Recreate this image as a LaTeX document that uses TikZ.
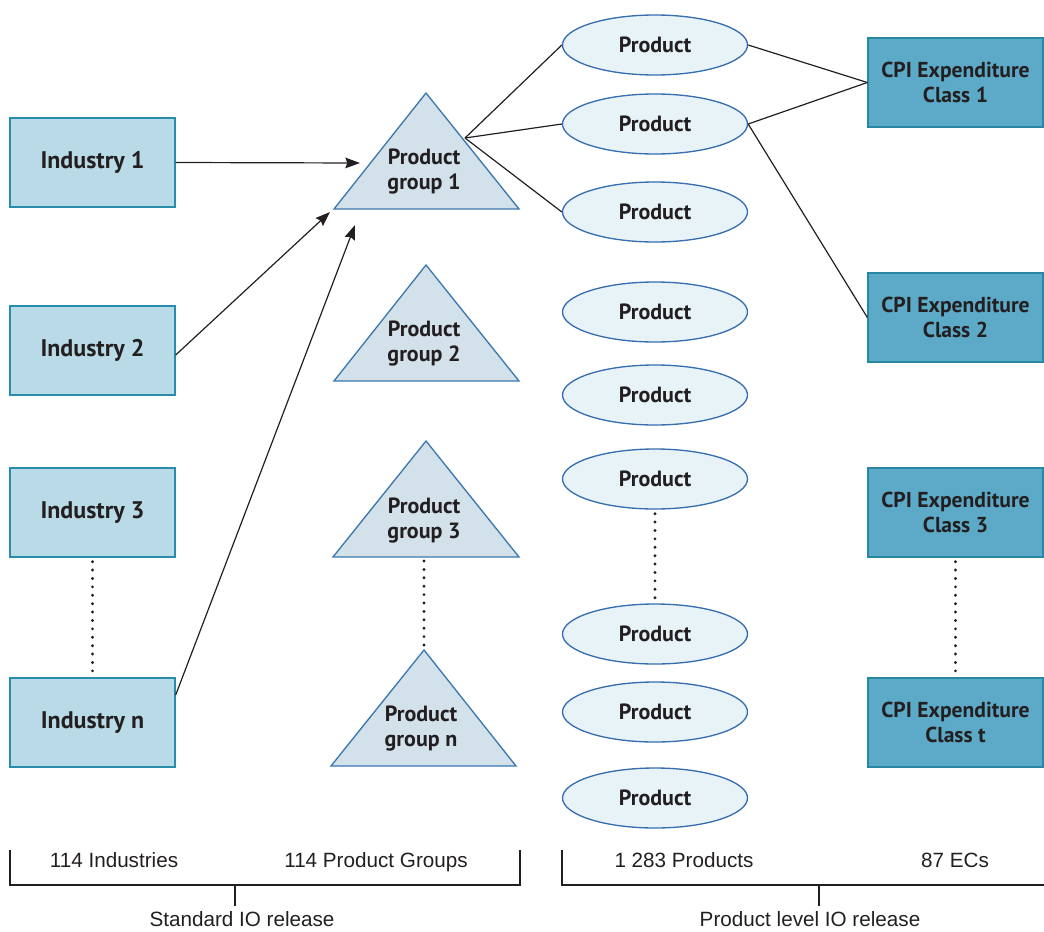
\documentclass[tikz,border=0pt]{standalone}
\usepackage{fontspec}
\setmainfont{PT Sans}
\newfontfamily\labelfont{Liberation Sans}
\usetikzlibrary{shapes.geometric,arrows.meta,calc}
\definecolor{indfill}{RGB}{185,219,231}
\definecolor{indborder}{RGB}{40,140,170}
\definecolor{trifill}{RGB}{211,225,234}
\definecolor{triborder}{RGB}{58,120,175}
\definecolor{ellfill}{RGB}{232,243,248}
\definecolor{ellborder}{RGB}{55,110,175}
\definecolor{cpifill}{RGB}{92,170,199}
\definecolor{cpiborder}{RGB}{40,135,165}
\definecolor{txt}{RGB}{35,31,32}
\tikzset{
  indbox/.style={draw=indborder,fill=indfill,line width=1pt,minimum width=123.75pt,minimum height=66.75pt,inner sep=0pt,font=\fontsize{18}{18.75}\selectfont\bfseries,text=txt},
  cpibox/.style={draw=cpiborder,fill=cpifill,line width=1pt,minimum width=131.25pt,minimum height=66.75pt,inner sep=0pt,align=center,font=\fontsize{16.2}{18.75}\selectfont\bfseries,text=txt},
  prod/.style={ellipse,draw=ellborder,fill=ellfill,line width=1pt,minimum width=138.75pt,minimum height=45pt,inner sep=0pt,font=\fontsize{16.5}{18.75}\selectfont\bfseries,text=txt},
  tri/.style={draw=triborder,fill=trifill,line width=1pt},
  trilabel/.style={align=center,inner sep=0pt,font=\fontsize{16.5}{18.75}\selectfont\bfseries,text=txt},
  conn/.style={line width=0.9pt,txt},
  arr/.style={conn,-{Stealth[length=11pt,width=8pt,inset=1.5pt]}},
  dots/.style={line width=2.4pt,line cap=round,dash pattern=on 0pt off 6.3pt,txt},
  lab/.style={font=\labelfont\fontsize{15.5}{16}\selectfont,text=txt,inner sep=0pt,anchor=base},
  brack/.style={line width=0.8pt,txt}
}
\begin{document}
\begin{tikzpicture}[x=0.75pt,y=-0.75pt]
\useasboundingbox (0,0) rectangle (1044,931);
% industries
\node[indbox] (ind1) at (92.5,162.5) {Industry 1};
\node[indbox] (ind2) at (92.5,350.5) {Industry 2};
\node[indbox] (ind3) at (92.5,512.5) {Industry 3};
\node[indbox] (indn) at (92.5,722.5) {Industry n};
% triangles
\draw[tri] (426,93) coordinate (t1top) -- (519,209) coordinate (t1r) -- (334,209) coordinate (t1l) -- cycle;
\draw[tri] (426,265) coordinate (t2top) -- (519,381) -- (334,381) -- cycle;
\draw[tri] (426,441) coordinate (t3top) -- (519,557) coordinate (t3r) -- (333,557) -- cycle;
\draw[tri] (424,650) coordinate (tntop) -- (516,766) -- (331,766) -- cycle;
\node[trilabel] (g1) at (424,172) {Product\\group 1};
\node[trilabel] (g2) at (424,344) {Product\\group 2};
\node[trilabel] (g3) at (424,521) {Product\\group 3};
\node[trilabel] (gn) at (421,729) {Product\\group n};
\coordinate (t1rp) at (465,138);
\coordinate (t1in) at (360,163);
\coordinate (t1a2) at (330,212);
\coordinate (t1a3) at (355,225);
\coordinate (t3b) at (424,561);
\coordinate (tnb) at (424,647);
% products
\node[prod] (p1) at (655,45) {Product};
\node[prod] (p2) at (655,124) {Product};
\node[prod] (p3) at (655,212) {Product};
\node[prod] (p4) at (655,312) {Product};
\node[prod] (p5) at (655,395) {Product};
\node[prod] (p6) at (655,479) {Product};
\node[prod] (p7) at (655,634) {Product};
\node[prod] (p8) at (655,712) {Product};
\node[prod] (p9) at (655,798) {Product};
% CPI
\node[cpibox] (c1) at (955.5,82.5) {CPI Expenditure\\Class 1};
\node[cpibox] (c2) at (955.5,317.5) {CPI Expenditure\\Class 2};
\node[cpibox] (c3) at (955.5,512.5) {CPI Expenditure\\Class 3};
\node[cpibox] (ct) at (955.5,722.5) {CPI Expenditure\\Class t};
% arrows
\draw[arr] (ind1.east) -- (t1in);
\draw[arr] (ind2.east |- 0,355) -- (t1a2);
\draw[arr] (indn.east |- 0,695) -- (t1a3);
% lines
\draw[conn] (t1rp) -- (p1.west);
\draw[conn] (t1rp) -- (p2.west);
\draw[conn] (t1rp) -- (p3.west);
\draw[conn] (p1.east) -- (c1.west);
\draw[conn] (p2.east) -- (c1.west);
\draw[conn] (p2.east) -- (c2.west);
% dotted
\draw[dots] ($(ind3.south)+(0,4)$) -- ($(indn.north)+(0,-3)$);
\draw[dots] (t3b) -- (tnb);
\draw[dots] ($(p6.south)+(0,4)$) -- ($(p7.north)+(0,-4)$);
\draw[dots] ($(c3.south)+(0,4)$) -- ($(ct.north)+(0,-3)$);
% bottom labels
\node[lab] (l1) at (114,867) {114 Industries};
\node[lab] (l2) at (376,867) {114 Product Groups};
\node[lab] (l3) at (684,867) {1 283 Products};
\node[lab] (l4) at (955,867) {87 ECs};
\node[lab] (s1) at (242,926) {Standard IO release};
\node[lab] (s2) at (810,926) {Product level IO release};
\draw[brack] (10,850) -- (10,885) -- (520,885) -- (520,850);
\draw[brack] (235,885) -- (235,906);
\draw[brack] (562,850) -- (562,885) -- (1044,885);
\draw[brack] (819,885) -- (819,906);
\end{tikzpicture}
\end{document}
